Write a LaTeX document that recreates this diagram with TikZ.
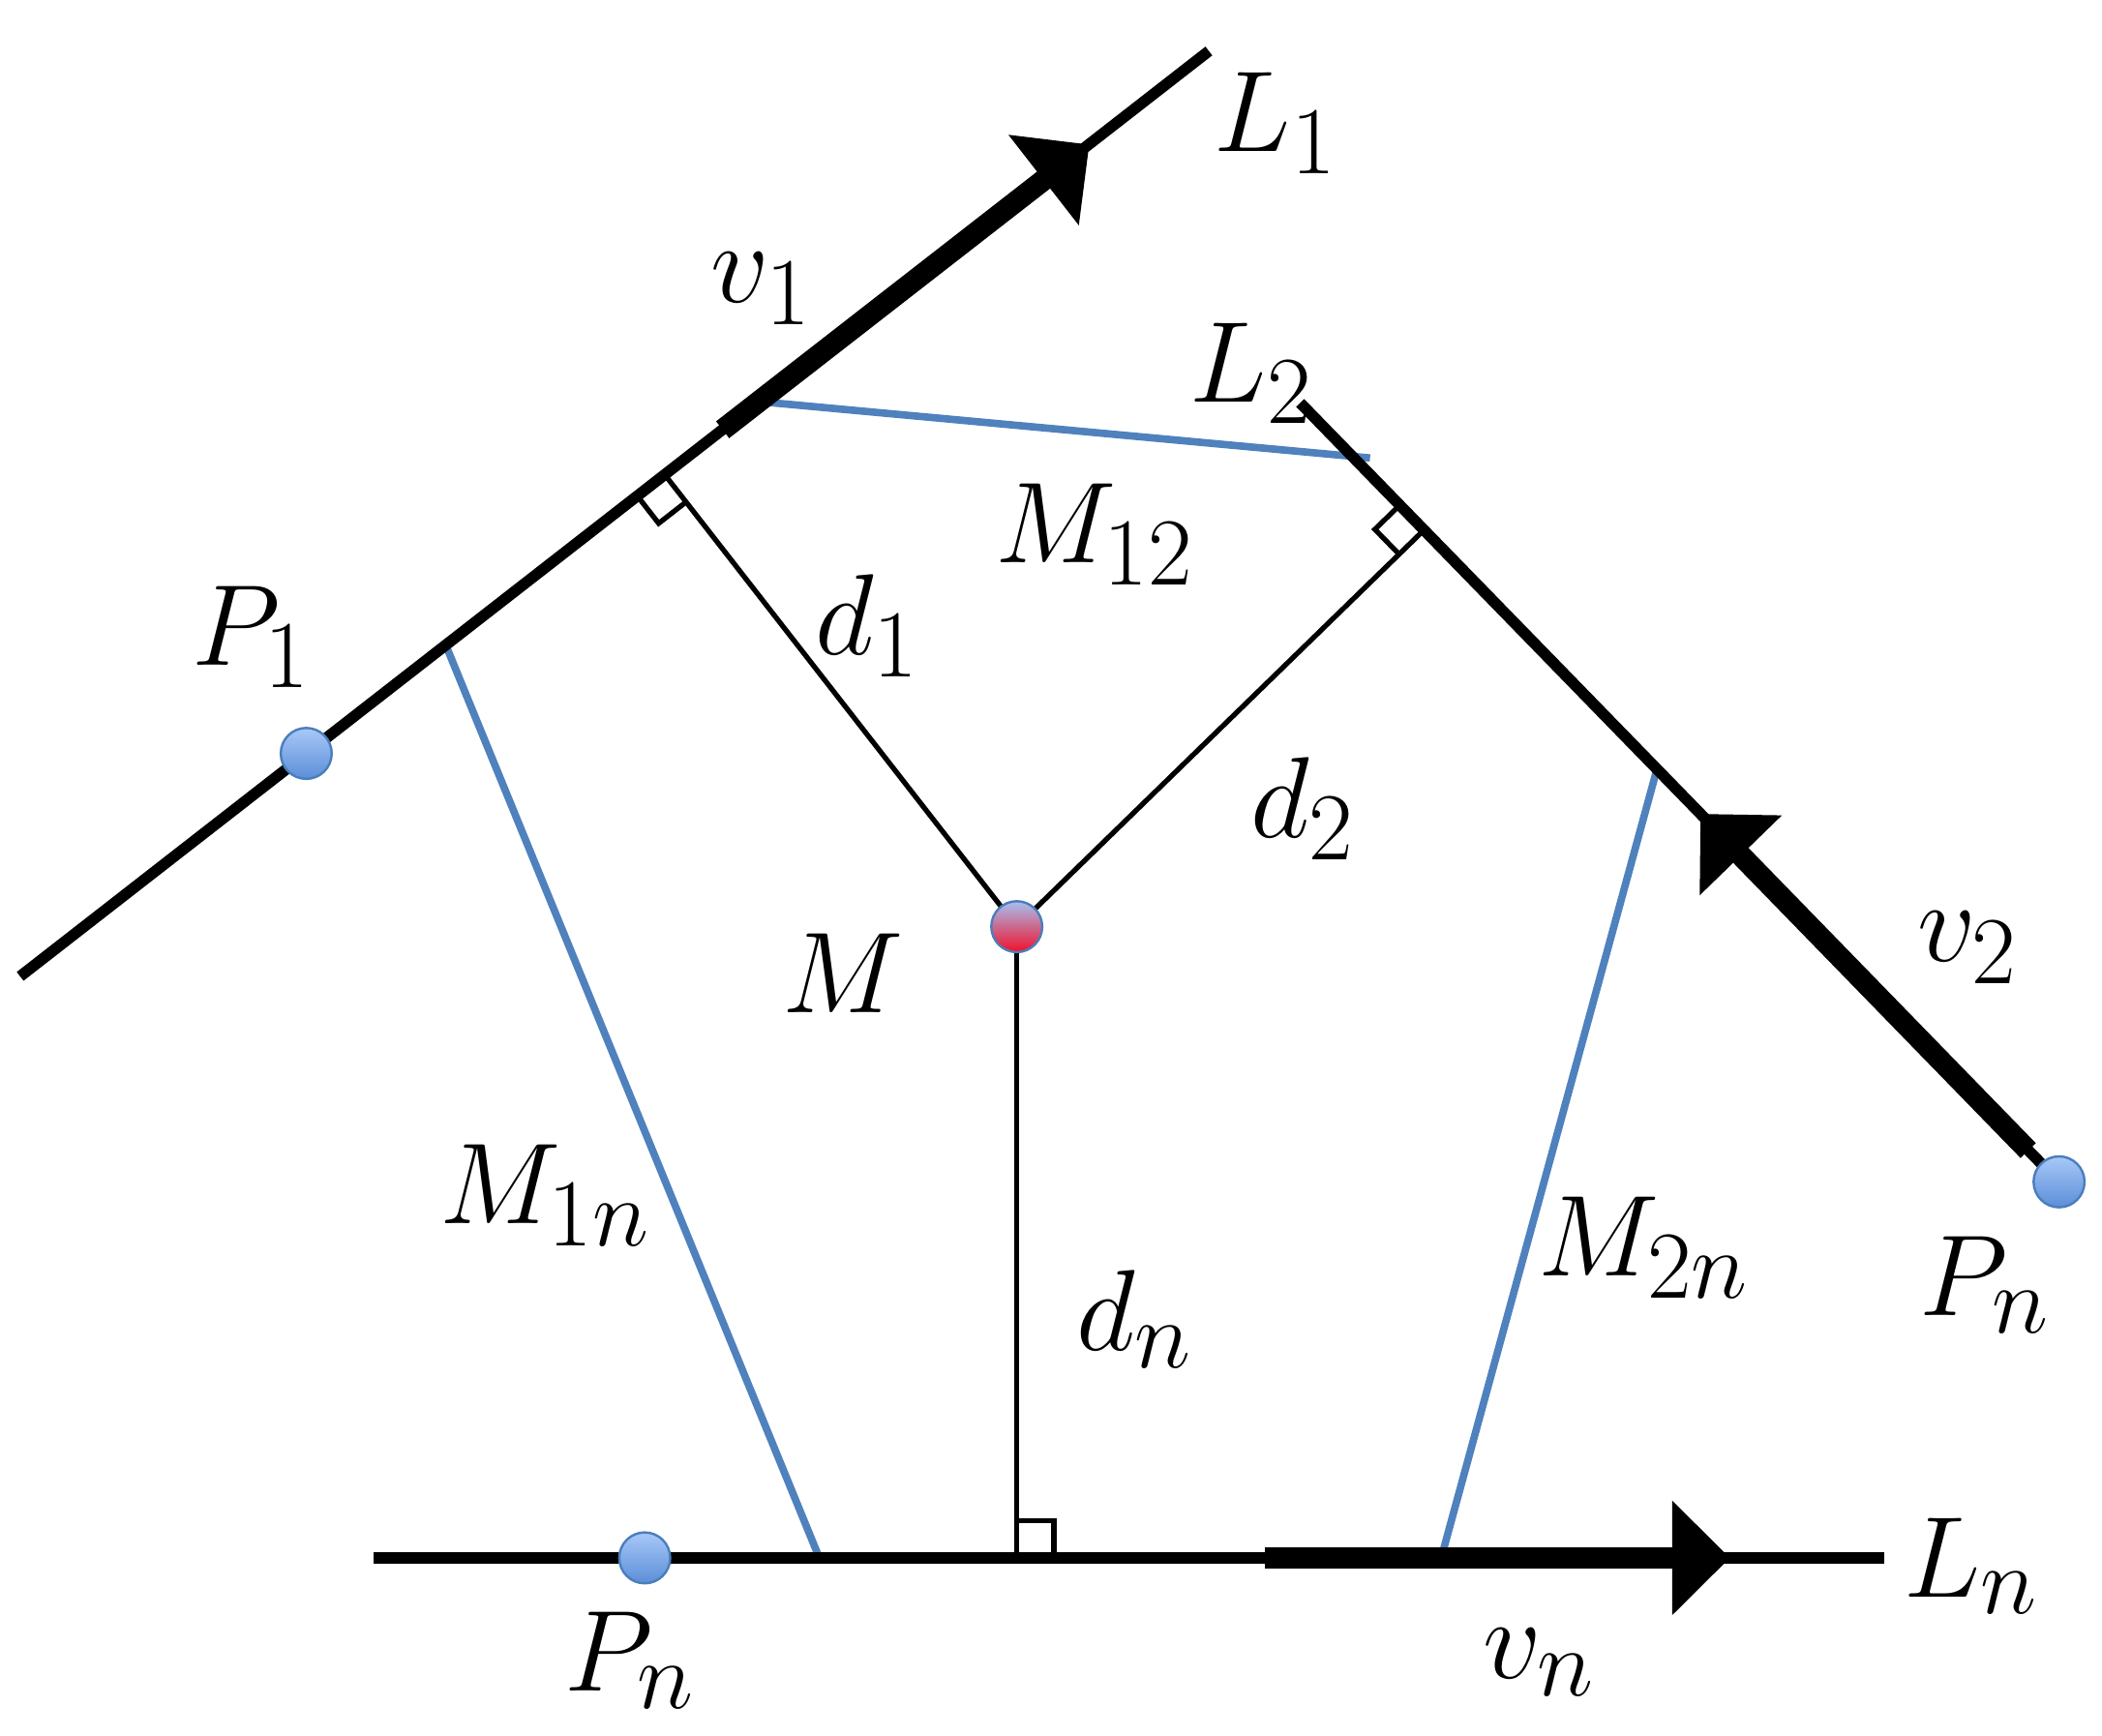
\documentclass[tikz,border=0pt]{standalone}
\usetikzlibrary{arrows.meta,calc}
\definecolor{lineblue}{HTML}{4F81BD}
\definecolor{dotborder}{HTML}{4A7EBB}
\definecolor{dottop}{HTML}{A8C8F8}
\definecolor{dotbot}{HTML}{5B8ED8}
\definecolor{mtop}{HTML}{A8C0F0}
\definecolor{mred}{HTML}{F0102A}
\begin{document}
\begin{tikzpicture}[x=0.29pt,y=-0.29pt,
  axisline/.style={line width=2.4pt},
  velarrow/.style={line width=4.6pt,-{Triangle[length=12.5pt,width=24pt]}},
  perpline/.style={line width=1.1pt},
  mline/.style={line width=1.6pt,color=lineblue},
  bdot/.style={circle,inner sep=0pt,minimum size=11pt,draw=dotborder,line width=0.5pt,top color=dottop,bottom color=dotbot},
  mdot/.style={circle,inner sep=0pt,minimum size=11pt,draw=dotborder,line width=0.5pt,top color=mtop,bottom color=mred},
  lbl/.style={inner sep=0pt,font=\Huge}]
\useasboundingbox (0,0) rectangle (1565,1292);
% key points
\coordinate (L1a) at (15,727);
\coordinate (L1b) at (900,38);
\coordinate (v1s) at (538,320);
\coordinate (v1t) at (811,107.6);
\coordinate (L2a) at (968,300);
\coordinate (v2s) at (1510,856.7);
\coordinate (v2t) at (1266,606);
\coordinate (Lna) at (278,1160);
\coordinate (Lnb) at (1403,1160);
\coordinate (vns) at (942,1160);
\coordinate (vnt) at (1288,1160);
\coordinate (P1c) at (228,561);
\coordinate (Pn2c) at (1533,880);
\coordinate (Pn1c) at (480,1160);
\coordinate (Mc) at (757,690);
% feet of perpendiculars
\coordinate (F1) at ($(L1a)!(Mc)!(L1b)$);
\coordinate (F2) at ($(L2a)!(Mc)!(Pn2c)$);
\coordinate (Fn) at ($(Lna)!(Mc)!(Lnb)$);
% blue segment ends
\coordinate (m12a) at (565,299);
\coordinate (m12b) at (1020,341);
\coordinate (m1na) at (333,483);
\coordinate (m1nb) at (610,1160);
\coordinate (m2na) at (1233,575);
\coordinate (m2nb) at (1073,1160);
% blue lines
\draw[mline] (m12a) -- (m12b);
\draw[mline] (m1na) -- (m1nb);
\draw[mline] (m2na) -- (m2nb);
% perpendiculars
\draw[perpline] (Mc) -- (F1);
\draw[perpline] (Mc) -- (F2);
\draw[perpline] (Mc) -- (Fn);
% right angle marks
\coordinate (a1) at ($(F1)!7.5pt!(L1a)$);
\coordinate (b1) at ($(F1)!7.5pt!(Mc)$);
\draw[perpline] (a1) -- ($(a1)+(b1)-(F1)$) -- (b1);
\coordinate (a2) at ($(F2)!7.5pt!(L2a)$);
\coordinate (b2) at ($(F2)!7.5pt!(Mc)$);
\draw[perpline] (a2) -- ($(a2)+(b2)-(F2)$) -- (b2);
\coordinate (an) at ($(Fn)!8pt!(Lnb)$);
\coordinate (bn) at ($(Fn)!8pt!(Mc)$);
\draw[perpline] (an) -- ($(an)+(bn)-(Fn)$) -- (bn);
% lines
\draw[axisline] (L1a) -- (L1b);
\draw[axisline] (L2a) -- (Pn2c);
\draw[axisline] (Lna) -- (Lnb);
% velocity arrows
\draw[velarrow] (v1s) -- (v1t);
\draw[velarrow] (v2s) -- (v2t);
\draw[velarrow] (vns) -- (vnt);
% dots
\node[bdot] (P1) at (P1c) {};
\node[bdot] (Pn2) at (Pn2c) {};
\node[bdot] (Pn1) at (Pn1c) {};
\node[mdot] (M) at (Mc) {};
% labels
\node[lbl] (tL1) at (950,92) {$L_1$};
\node[lbl] (tv1) at (567,215) {$v_1$};
\node[lbl] (tL2) at (932,278) {$L_2$};
\node[lbl] (tM12) at (815,398) {$M_{12}$};
\node[lbl] (tP1) at (187,474) {$P_1$};
\node[lbl] (td1) at (646,466) {$d_1$};
\node[lbl] (td2) at (970,602) {$d_2$};
\node[lbl] (tM) at (628,725) {$M$};
\node[lbl] (tv2) at (1465,706) {$v_2$};
\node[lbl] (tM1n) at (406,890) {$M_{1n}$};
\node[lbl] (tdn) at (845,982) {$d_n$};
\node[lbl] (tM2n) at (1224,929) {$M_{2n}$};
\node[lbl] (tPn2) at (1478,957) {$P_n$};
\node[lbl] (tLn) at (1468,1166) {$L_n$};
\node[lbl] (tPn1) at (469,1236) {$P_n$};
\node[lbl] (tvn) at (1146,1238) {$v_n$};
\end{tikzpicture}
\end{document}
